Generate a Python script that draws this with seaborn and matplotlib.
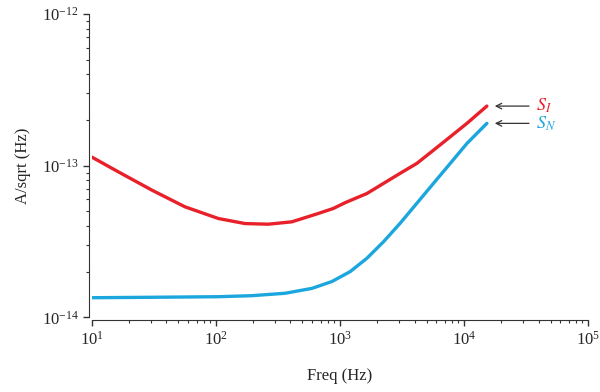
import matplotlib.pyplot as plt
import pandas as pd
import seaborn as sns

# values (Hz, A/sqrt(Hz))
freq_i = [10, 16.4, 30.5, 56.5, 105, 172, 265, 410, 672, 887, 1104, 1652,
          3062, 4178, 5690, 7762, 10570, 15310]
s_i = [1.14e-13, 9.1e-14, 6.9e-14, 5.35e-14, 4.48e-14, 4.15e-14, 4.11e-14,
       4.26e-14, 4.84e-14, 5.22e-14, 5.7e-14, 6.55e-14, 8.9e-14, 1.035e-13,
       1.265e-13, 1.55e-13, 1.9e-13, 2.47e-13]
freq_n = [10, 30.5, 105, 195, 362, 594, 862, 1210, 1652, 2250, 3062, 4178,
          5690, 7762, 10570, 15310]
s_n = [1.346e-14, 1.355e-14, 1.367e-14, 1.388e-14, 1.44e-14, 1.55e-14,
       1.72e-14, 2.0e-14, 2.45e-14, 3.15e-14, 4.17e-14, 5.65e-14, 7.65e-14,
       1.035e-13, 1.40e-13, 1.90e-13]

red = "#e8202a"
blue = "#1ba6de"
grey = "#333333"

sns.set_style("ticks")
plt.rcParams['font.family'] = ['Liberation Serif', 'DejaVu Serif']
plt.rcParams['mathtext.fontset'] = 'stix'

fig = plt.figure(figsize=(6, 3.92), dpi=100)
ax = fig.add_axes([0.1528, 0.1906, 0.8272, 0.7737])

df = pd.concat([
    pd.DataFrame({"f": freq_i, "v": s_i, "s": "SI"}),
    pd.DataFrame({"f": freq_n, "v": s_n, "s": "SN"}),
])
sns.lineplot(data=df, x="f", y="v", hue="s", palette=[red, blue],
             linewidth=2.4, legend=False, ax=ax)

ax.set_xscale("log")
ax.set_yscale("log")
ax.set_xlim(10, 1e5)
ax.set_ylim(1e-14, 1e-12)
ax.set_xlabel("Freq (Hz)", fontsize=12, labelpad=14)
ax.set_ylabel("A/sqrt (Hz)", fontsize=12, labelpad=8)
ax.tick_params(labelsize=12, color=grey, width=1, length=4)
ax.tick_params(which="minor", color=grey, width=0.8, length=2.5)
sns.despine(ax=ax, offset=2)
for s in ["left", "bottom"]:
    ax.spines[s].set_color(grey)

# arrows pointing at the curve ends with labels
for x_end, y_end, lab, col in [(freq_i[-1], s_i[-1], "$S_I$", red),
                                (freq_n[-1], s_n[-1], "$S_N$", blue)]:
    ax.annotate("", xy=(x_end * 1.1, y_end), xytext=(x_end * 2.3, y_end),
                arrowprops=dict(arrowstyle="->", color=grey, lw=0.9))
    ax.text(x_end * 2.5, y_end, lab, color=col, fontsize=13, va="center")

fig.savefig("out.png", dpi=100)
